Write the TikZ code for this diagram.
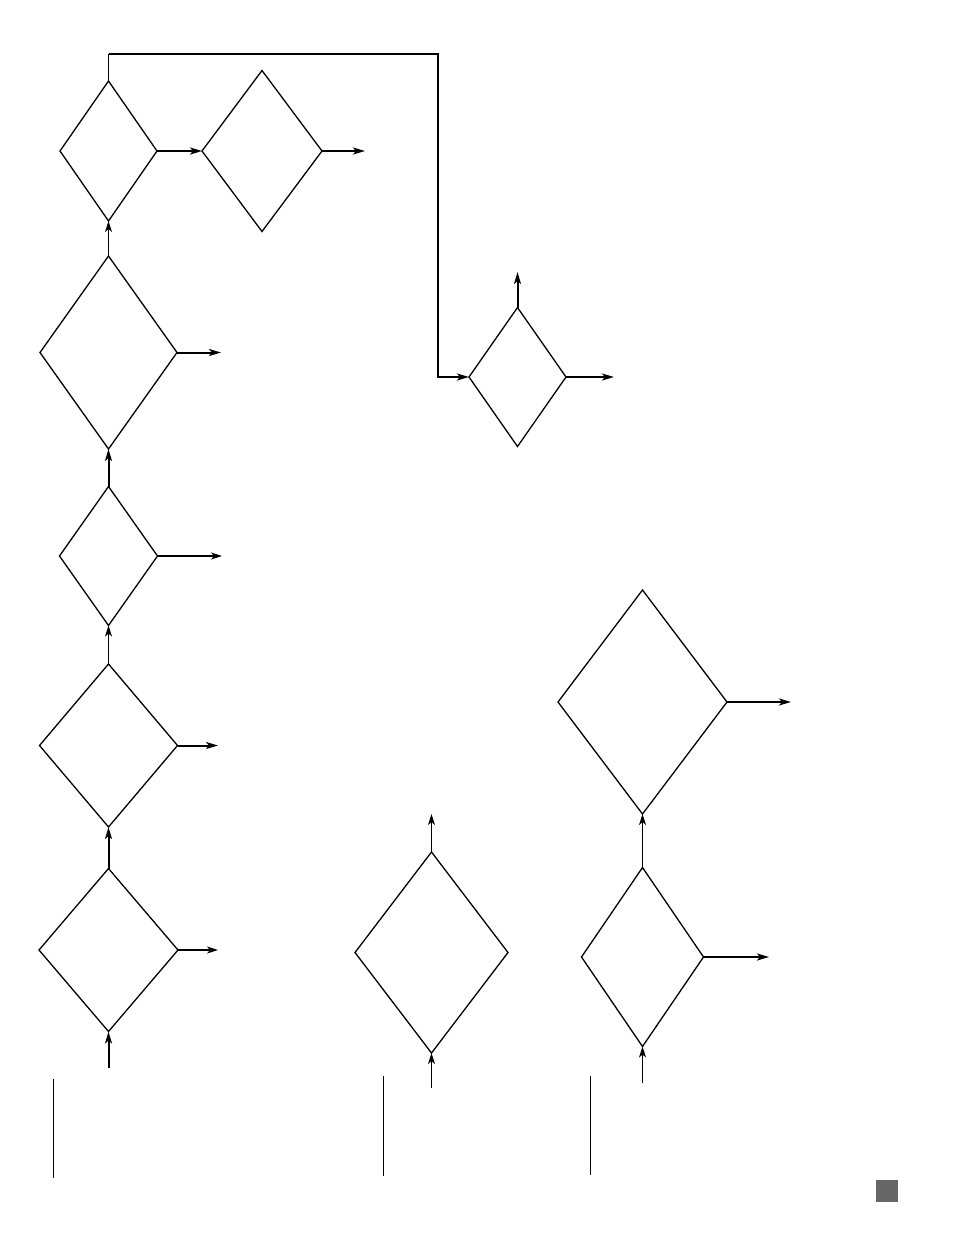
\documentclass[tikz,border=0pt]{standalone}
\usetikzlibrary{shapes.geometric,arrows.meta}
\begin{document}
\begin{tikzpicture}[x=1pt,y=-1pt,
  dia/.style={draw=black,line width=1.3pt,diamond,inner sep=0pt,outer sep=0pt,shape aspect=1},
  thinarr/.style={line width=1.1pt,-{Stealth[length=11pt,width=7pt,inset=3pt]}},
  thickarr/.style={line width=2pt,-{Stealth[length=12pt,width=7pt,inset=3pt]}},
  thinline/.style={line width=1.1pt},
  thickline/.style={line width=2pt},
  rule/.style={line width=1pt}]
\useasboundingbox (0,0) rectangle (954,1235);
% diamonds
\node[dia,minimum width=97pt,minimum height=140pt] (d1) at (108.5,151) {};
\node[dia,minimum width=120pt,minimum height=161pt] (d2) at (262,151) {};
\node[dia,minimum width=137pt,minimum height=193pt] (d3) at (108.5,352.5) {};
\node[dia,minimum width=98pt,minimum height=139pt] (d4) at (108.5,556) {};
\node[dia,minimum width=138pt,minimum height=163pt] (d5) at (108.5,745.5) {};
\node[dia,minimum width=139pt,minimum height=163pt] (d6) at (108.5,950) {};
\node[dia,minimum width=97pt,minimum height=139pt] (d7) at (517.5,377) {};
\node[dia,minimum width=153pt,minimum height=201pt] (d8) at (431.5,952.5) {};
\node[dia,minimum width=122pt,minimum height=179pt] (d9) at (642.5,957) {};
\node[dia,minimum width=169pt,minimum height=224pt] (d10) at (642.5,702) {};
% free ends
\coordinate (e2) at (365,151);
\coordinate (e3) at (221,352.5);
\coordinate (e4) at (222,556);
\coordinate (e5) at (218,745.5);
\coordinate (e6) at (218,950);
\coordinate (s6) at (108.5,1068);
\coordinate (n7) at (517.5,272);
\coordinate (e7) at (614,377);
\coordinate (n8) at (431.5,814);
\coordinate (s8) at (431.5,1088);
\coordinate (e9) at (769,957);
\coordinate (s9) at (642.5,1083);
\coordinate (e10) at (791,702);
\coordinate (fb1) at (108.5,54);
\coordinate (fb2) at (437.5,54);
% connectors
\draw[thickarr] (d1.east) -- (d2.west);
\draw[thickarr] (d2.east) -- (e2);
\draw[thinarr] (d3.north) -- (d1.south);
\draw[thickarr] (d3.east) -- (e3);
\draw[thickarr] (d4.north) -- (d3.south);
\draw[thinarr] (d4.east) -- (e4);
\draw[thinarr] (d5.north) -- (d4.south);
\draw[thickarr] (d5.east) -- (e5);
\draw[thickarr] (d6.north) -- (d5.south);
\draw[thinarr] (d6.east) -- (e6);
\draw[thickarr] (s6) -- (d6.south);
\draw[thinline] (d1.north) -- (fb1);
\draw[thickarr] (fb1) -- (fb2) |- (d7.west);
\draw[thickarr] (d7.north) -- (n7);
\draw[thickarr] (d7.east) -- (e7);
\draw[thinarr] (d8.north) -- (n8);
\draw[thinarr] (s8) -- (d8.south);
\draw[thinarr] (d9.north) -- (d10.south);
\draw[thickarr] (d9.east) -- (e9);
\draw[thinarr] (s9) -- (d9.south);
\draw[thickarr] (d10.east) -- (e10);
% rules at the bottom
\draw[rule] (53.3,1079) -- (53.3,1178);
\draw[rule] (383.3,1076) -- (383.3,1176);
\draw[rule] (590.3,1076) -- (590.3,1175);
\fill[black!60] (876,1180) rectangle (897.7,1202);
\end{tikzpicture}
\end{document}
